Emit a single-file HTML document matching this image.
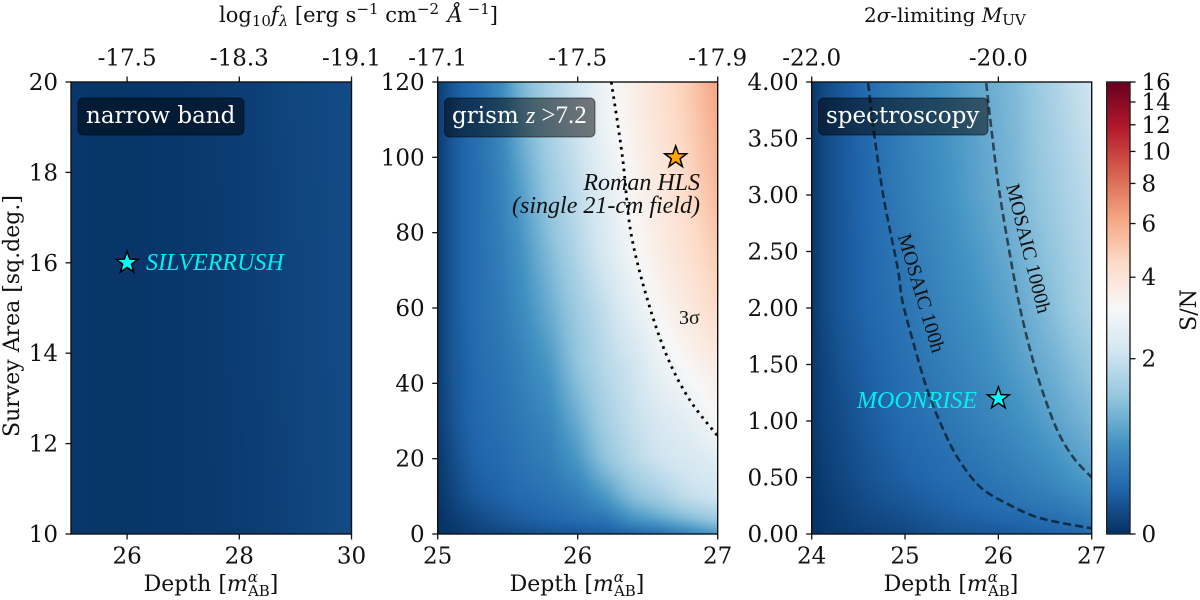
<!DOCTYPE html>
<html lang="en">
<head>
<meta charset="utf-8">
<title>Survey S/N panels</title>
<style>
html,body{margin:0;padding:0;background:#fff;width:1200px;height:600px;overflow:hidden}
svg{display:block}
text{font-family:"DejaVu Serif","Liberation Serif",serif;fill:#111}
.tick{font-size:23px}
.axl{font-size:22px}
.math{font-size:20px}
.badge{font-size:23px;fill:#fff}
.note{font-family:"Liberation Serif",serif;font-size:24px;font-style:italic}
.stix{font-family:"Liberation Serif",serif}
</style>
</head>
<body>
<svg id="fig" xmlns="http://www.w3.org/2000/svg" width="1200" height="600" viewBox="0 0 1200 600">
<defs id="defs"></defs>
<g id="layer-heat"></g>
<g id="layer-axes"></g>

<text class="math" x="219" y="22" font-size="21" style="font-size:21px">log<tspan font-size="15" style="font-size:15px" dy="4">10</tspan><tspan font-style="italic" dy="-4">f</tspan><tspan style="font-size:15px" font-style="italic" dy="4">λ</tspan><tspan dy="-4"> [erg s</tspan><tspan style="font-size:15px" dy="-8">−1</tspan><tspan dy="8"> cm</tspan><tspan style="font-size:15px" dy="-8">−2</tspan><tspan font-style="italic" dy="8" dx="2"> Å</tspan><tspan style="font-size:15px" dy="-8"> −1</tspan><tspan dy="8">]</tspan></text>
<text class="math" x="864" y="22">2<tspan font-style="italic">σ</tspan>-limiting <tspan font-style="italic">M</tspan><tspan style="font-size:15px" dy="3">UV</tspan></text>

<text class="axl" transform="translate(19 316) rotate(-90)" text-anchor="middle">Survey Area [sq.deg.]</text>
<text class="axl" x="211" y="591" text-anchor="middle">Depth [<tspan font-style="italic">m</tspan><tspan style="font-size:15px" font-style="italic" dy="-9">α</tspan><tspan style="font-size:15px" dx="-10" dy="14">AB</tspan><tspan dy="-5">]</tspan></text>
<text class="axl" x="577" y="591" text-anchor="middle">Depth [<tspan font-style="italic">m</tspan><tspan style="font-size:15px" font-style="italic" dy="-9">α</tspan><tspan style="font-size:15px" dx="-10" dy="14">AB</tspan><tspan dy="-5">]</tspan></text>
<text class="axl" x="951" y="591" text-anchor="middle">Depth [<tspan font-style="italic">m</tspan><tspan style="font-size:15px" font-style="italic" dy="-9">α</tspan><tspan style="font-size:15px" dx="-10" dy="14">AB</tspan><tspan dy="-5">]</tspan></text>
<text class="axl" transform="translate(1196 310) rotate(-90)" text-anchor="middle">S/N</text>

<rect x="78" y="98" width="166" height="37" rx="5" fill="#000" fill-opacity=".5" stroke="#000" stroke-opacity=".5"/>
<text class="badge" x="86" y="123">narrow band</text>
<rect x="444.5" y="98" width="150.5" height="39" rx="5" fill="#000" fill-opacity=".5" stroke="#000" stroke-opacity=".5"/>
<text class="badge" x="452" y="123">grism <tspan class="stix" font-style="italic" style="font-size:24px;font-family:'Liberation Serif',serif">z</tspan><tspan class="stix" dx="6" style="font-size:25px;font-family:'Liberation Serif',serif">&gt;7.2</tspan></text>
<rect x="818.5" y="98" width="169.5" height="37" rx="5" fill="#000" fill-opacity=".5" stroke="#000" stroke-opacity=".5"/>
<text class="badge" x="826" y="123">spectroscopy</text>

<text class="note" x="146" y="270" style="fill:#00f0f0">SILVERRUSH</text>
<text class="note" x="977" y="408" text-anchor="end" style="fill:#00f0f0">MOONRISE</text>
<text class="note" x="700" y="190" text-anchor="end">Roman HLS</text>
<text class="note" x="700" y="213" text-anchor="end">(single 21-cm field)</text>
<text class="stix" x="679" y="324" style="font-size:20px;font-family:'Liberation Serif',serif">3σ</text>
<text class="stix" text-anchor="middle" transform="translate(915 295) rotate(73.5)" style="font-size:20px;font-family:'Liberation Serif',serif">MOSAIC 100h</text>
<text class="stix" text-anchor="middle" transform="translate(1022 250) rotate(76)" style="font-size:20px;font-family:'Liberation Serif',serif">MOSAIC 1000h</text>
<g id="layer-marks"></g>
</svg>

<script>
/* ---------- data: narrow band ---------- */
const nbDepths = [25, 25.5, 26, 27, 28, 29, 30];
const nbAreas = [10, 20];
const nbSN = [
  [0.04, 0.03, 0.03, 0.04, 0.06, 0.10, 0.15],
  [0.04, 0.03, 0.03, 0.04, 0.07, 0.12, 0.15]
];
const nbDepthTicks = [26, 28, 30];
const nbAreaTicks = [10, 12, 14, 16, 18, 20];
const nbFluxTickLabels = ["-17.5", "-18.3", "-19.1"];

/* ---------- data: grism ---------- */
const grDepths = [25, 25.1, 25.2, 25.3, 25.45, 25.6, 25.8, 26, 26.2, 26.4, 26.6, 26.8, 27];
const grAreas = [0, 4, 10, 20, 30, 45, 60, 75, 90, 105, 120];
const grSN = [
  [0.01, 0.03, 0.06, 0.09, 0.12, 0.15, 0.19, 0.22, 0.25, 0.29, 0.37, 0.57, 0.76],
  [0.01, 0.06, 0.10, 0.15, 0.22, 0.27, 0.33, 0.39, 0.45, 0.76, 0.97, 1.21, 1.48],
  [0.03, 0.10, 0.19, 0.25, 0.31, 0.37, 0.43, 0.53, 0.81, 1.27, 1.55, 1.94, 2.11],
  [0.04, 0.15, 0.25, 0.33, 0.37, 0.45, 0.53, 0.81, 1.34, 1.77, 2.11, 2.29, 2.48],
  [0.06, 0.19, 0.29, 0.35, 0.41, 0.49, 0.62, 1.03, 1.55, 1.94, 2.29, 2.58, 3.12],
  [0.06, 0.22, 0.29, 0.39, 0.45, 0.57, 0.81, 1.34, 1.77, 2.11, 2.79, 3.24, 3.62],
  [0.06, 0.22, 0.33, 0.41, 0.49, 0.67, 1.03, 1.48, 1.94, 2.58, 3.24, 3.76, 4.47],
  [0.06, 0.22, 0.33, 0.41, 0.53, 0.76, 1.21, 1.70, 2.29, 3.01, 3.62, 4.18, 4.96],
  [0.06, 0.22, 0.33, 0.41, 0.57, 0.87, 1.41, 1.85, 2.48, 3.24, 3.76, 4.47, 5.49],
  [0.06, 0.22, 0.33, 0.41, 0.62, 1.03, 1.55, 2.02, 2.79, 3.37, 4.03, 4.79, 5.88],
  [0.06, 0.22, 0.33, 0.41, 0.67, 1.15, 1.62, 2.11, 2.90, 3.49, 4.18, 4.96, 6.28]
];
const grDepthTicks = [25, 26, 27];
const grAreaTicks = [0, 20, 40, 60, 80, 100, 120];
const grFluxTickLabels = ["-17.1", "-17.5", "-17.9"];
const contour3sDepth = [26.24, 26.32, 26.38, 26.5, 26.64, 26.8, 27];
const contour3sArea = [120, 100, 80, 62, 47, 35.6, 26];

/* ---------- data: spectroscopy ---------- */
const spDepths = [24, 24.1, 24.3, 24.6, 25, 25.4, 25.8, 26.2, 26.6, 27];
const spAreas = [0, 0.25, 0.5, 1, 1.5, 2, 3, 4];
const spSN = [
  [0.01, 0.03, 0.06, 0.09, 0.12, 0.19, 0.22, 0.25, 0.29, 0.37],
  [0.01, 0.04, 0.09, 0.15, 0.22, 0.29, 0.37, 0.43, 0.49, 0.62],
  [0.01, 0.06, 0.12, 0.20, 0.29, 0.37, 0.43, 0.53, 0.67, 0.87],
  [0.03, 0.09, 0.15, 0.25, 0.37, 0.45, 0.57, 0.71, 0.92, 1.15],
  [0.03, 0.10, 0.19, 0.29, 0.41, 0.53, 0.67, 0.87, 1.09, 1.41],
  [0.03, 0.12, 0.22, 0.33, 0.45, 0.60, 0.76, 0.97, 1.27, 1.70],
  [0.03, 0.12, 0.22, 0.35, 0.53, 0.71, 0.92, 1.15, 1.48, 1.85],
  [0.03, 0.12, 0.22, 0.37, 0.57, 0.76, 0.97, 1.21, 1.62, 2.11]
];
const spDepthTicks = [24, 25, 26, 27];
const spAreaTicks = [0, 0.5, 1, 1.5, 2, 2.5, 3, 3.5, 4];
const spTopTicks = [24, 26];
const spMuvTickLabels = ["-22.0", "-20.0"];
const mosaic100hDepth = [24.605, 24.66, 24.77, 24.92, 24.97, 25.09, 25.24, 25.38, 25.56, 25.8, 26.09, 26.45, 27];
const mosaic100hArea = [3.99, 3.6, 2.98, 2.36, 2.07, 1.69, 1.27, 0.98, 0.68, 0.42, 0.27, 0.14, 0.05];
const mosaic1000hDepth = [25.87, 25.93, 26.02, 26.2, 26.34, 26.47, 26.63, 26.8, 27];
const mosaic1000hArea = [3.99, 3.55, 2.98, 2.13, 1.63, 1.27, 0.92, 0.68, 0.5];

/* ---------- data: colour scale ---------- */
const colorbarTicks = [0, 2, 4, 6, 8, 10, 12, 14, 16];
const colorbarMax = 16;
const cmapStops = ["#053061","#2166ac","#4393c3","#92c5de","#d1e5f0","#f7f7f7","#fddbc7","#f4a582","#d6604d","#b2182b","#67001f"];

const NS = "http://www.w3.org/2000/svg";
function mk(tag, attrs, parent) {
  const el = document.createElementNS(NS, tag);
  for (const k in attrs) el.setAttribute(k, attrs[k]);
  parent.appendChild(el);
  return el;
}
function norm(v) { return Math.log(1 + Math.max(v, 0)) / Math.log(1 + colorbarMax); }
function hex2(c) { return [1, 3, 5].map(i => parseInt(c.substr(i, 2), 16)); }
function cmap(t) {
  const p = Math.min(Math.max(t, 0), 0.9999) * (cmapStops.length - 1);
  const i = Math.floor(p), f = p - i;
  const a = hex2(cmapStops[i]), b = hex2(cmapStops[i + 1]);
  return "rgb(" + a.map((x, j) => Math.round(x + (b[j] - x) * f)).join(",") + ")";
}
function fmt2(v) { return v.toFixed(2); }
function locate(arr, v) {
  let i = 0;
  while (i < arr.length - 2 && v > arr[i + 1]) i++;
  const f = Math.min(Math.max((v - arr[i]) / (arr[i + 1] - arr[i]), 0), 1);
  return [i, f];
}
function sampleGrid(depths, areas, sn, d, a) {
  const [c, fx] = locate(depths, d);
  const [r, fy] = locate(areas, a);
  const lo = sn[r][c] * (1 - fx) + sn[r][c + 1] * fx;
  const hi = sn[r + 1][c] * (1 - fx) + sn[r + 1][c + 1] * fx;
  return lo * (1 - fy) + hi * fy;
}

const heat = document.getElementById("layer-heat");
const axes = document.getElementById("layer-axes");
const marks = document.getElementById("layer-marks");
const defs = document.getElementById("defs");

function drawPanel(key, box, xDom, yDom, depths, areas, sn, xTicks, yTicks, yFmt, topTicks, topLabels) {
  const sx = d => box.x0 + (d - xDom[0]) / (xDom[1] - xDom[0]) * (box.x1 - box.x0);
  const sy = a => box.y1 - (a - yDom[0]) / (yDom[1] - yDom[0]) * (box.y1 - box.y0);
  const ix = x => xDom[0] + (x - box.x0) / (box.x1 - box.x0) * (xDom[1] - xDom[0]);
  const iy = y => yDom[0] + (box.y1 - y) / (box.y1 - box.y0) * (yDom[1] - yDom[0]);

  const clip = mk("clipPath", {id: "clip-" + key}, defs);
  mk("rect", {x: box.x0, y: box.y0, width: box.x1 - box.x0, height: box.y1 - box.y0}, clip);
  const filter = mk("filter", {id: "blur-" + key, filterUnits: "userSpaceOnUse", x: -100, y: -100, width: 1400, height: 800, "color-interpolation-filters": "sRGB"}, defs);
  mk("feGaussianBlur", {stdDeviation: 2.5}, filter);

  const clipG = mk("g", {"clip-path": "url(#clip-" + key + ")"}, heat);
  
  
  const cellG = mk("g", {filter: "url(#blur-" + key + ")"}, clipG);
  const step = 6;
  for (let py = box.y0 - 12; py < box.y1 + 12; py += step) {
    for (let px = box.x0 - 12; px < box.x1 + 12; px += step) {
      const value = sampleGrid(depths, areas, sn, ix(px + step / 2), iy(py + step / 2));
      const cell = mk("rect", {x: px, y: py, width: step + 0.5, height: step + 0.5, fill: cmap(norm(value))}, cellG);
      
      
    }
  }

  const frame = mk("rect", {x: box.x0, y: box.y0, width: box.x1 - box.x0, height: box.y1 - box.y0, fill: "none", stroke: "#111", "stroke-width": 1.4}, axes);
  
  

  xTicks.forEach(d => {
    const t = mk("line", {x1: sx(d), x2: sx(d), y1: box.y1, y2: box.y1 + 5.5, stroke: "#111", "stroke-width": 1.3}, axes);
    
    
    const l = mk("text", {x: sx(d), y: 563.5, "text-anchor": "middle", class: "tick"}, axes);
    l.textContent = String(d);
    
    
  });
  yTicks.forEach(a => {
    const t = mk("line", {x1: box.x0 - 5.5, x2: box.x0, y1: sy(a), y2: sy(a), stroke: "#111", "stroke-width": 1.3}, axes);
    
    
    const l = mk("text", {x: box.x0 - 13, y: sy(a) + 8, "text-anchor": "end", class: "tick"}, axes);
    l.textContent = yFmt(a);
    
    
  });
  topTicks.forEach((d, i) => {
    const t = mk("line", {x1: sx(d), x2: sx(d), y1: box.y0 - 5.5, y2: box.y0, stroke: "#111", "stroke-width": 1.3}, axes);
    
    
    const l = mk("text", {x: sx(d), y: 65.5, "text-anchor": "middle", class: "tick"}, axes);
    l.textContent = topLabels[i];
    
    
  });
  return {sx, sy};
}

function smoothPath(px) {
  let d = "M" + px[0][0] + " " + px[0][1];
  for (let i = 0; i < px.length - 1; i++) {
    const p0 = px[Math.max(i - 1, 0)], p1 = px[i], p2 = px[i + 1], p3 = px[Math.min(i + 2, px.length - 1)];
    d += " C" + (p1[0] + (p2[0] - p0[0]) / 6) + " " + (p1[1] + (p2[1] - p0[1]) / 6) + " " +
         (p2[0] - (p3[0] - p1[0]) / 6) + " " + (p2[1] - (p3[1] - p1[1]) / 6) + " " + p2[0] + " " + p2[1];
  }
  return d;
}
function star(cx, cy, R) {
  const pts = [];
  for (let i = 0; i < 10; i++) {
    const r = i % 2 ? R * 0.4 : R;
    const a = -Math.PI / 2 + i * Math.PI / 5;
    pts.push((cx + r * Math.cos(a)) + "," + (cy + r * Math.sin(a)));
  }
  return pts.join(" ");
}

const nb = drawPanel("narrow-band", {x0: 71, x1: 351.5, y0: 82, y1: 534}, [25, 30], [10, 20], nbDepths, nbAreas, nbSN, nbDepthTicks, nbAreaTicks, String, nbDepthTicks, nbFluxTickLabels);
const gr = drawPanel("grism", {x0: 437.7, x1: 717.7, y0: 82, y1: 534}, [25, 27], [0, 120], grDepths, grAreas, grSN, grDepthTicks, grAreaTicks, String, grDepthTicks, grFluxTickLabels);
const sp = drawPanel("spectroscopy", {x0: 811.7, x1: 1091.7, y0: 82, y1: 534}, [24, 27], [0, 4], spDepths, spAreas, spSN, spDepthTicks, spAreaTicks, fmt2, spTopTicks, spMuvTickLabels);

const c3 = mk("path", {d: smoothPath(contour3sDepth.map((d, i) => [gr.sx(d), gr.sy(contour3sArea[i])])), fill: "none", stroke: "#000", "stroke-width": 2.8, "stroke-dasharray": "2.6 4.7", "clip-path": "url(#clip-grism)"}, marks);


const m100 = mk("path", {d: smoothPath(mosaic100hDepth.map((d, i) => [sp.sx(d), sp.sy(mosaic100hArea[i])])), fill: "none", stroke: "#000", "stroke-opacity": 0.6, "stroke-width": 2.6, "stroke-dasharray": "8 4", "clip-path": "url(#clip-spectroscopy)"}, marks);


const m1000 = mk("path", {d: smoothPath(mosaic1000hDepth.map((d, i) => [sp.sx(d), sp.sy(mosaic1000hArea[i])])), fill: "none", stroke: "#000", "stroke-opacity": 0.6, "stroke-width": 2.6, "stroke-dasharray": "8 4", "clip-path": "url(#clip-spectroscopy)"}, marks);



const s1 = mk("polygon", {points: star(nb.sx(26), nb.sy(16), 11.5), fill: "#00ffff", stroke: "#000", "stroke-width": 1.5}, marks);


const s2 = mk("polygon", {points: star(gr.sx(26.7), gr.sy(100), 11.5), fill: "#ffa500", stroke: "#000", "stroke-width": 1.5}, marks);


const s3 = mk("polygon", {points: star(sp.sx(26), sp.sy(1.2), 11.5), fill: "#00ffff", stroke: "#000", "stroke-width": 1.5}, marks);



/* colour bar */
const cbBox = {x0: 1106.7, x1: 1130, y0: 82, y1: 534};
const grad = mk("linearGradient", {id: "cb-grad", x1: 0, y1: 1, x2: 0, y2: 0}, defs);
cmapStops.forEach((c, i) => {
  mk("stop", {offset: i / (cmapStops.length - 1), "stop-color": c}, grad);
});
const cbRect = mk("rect", {x: cbBox.x0, y: cbBox.y0, width: cbBox.x1 - cbBox.x0, height: cbBox.y1 - cbBox.y0, fill: "url(#cb-grad)", stroke: "#222", "stroke-width": 1.4}, axes);


colorbarTicks.forEach(v => {
  const y = cbBox.y1 - norm(v) * (cbBox.y1 - cbBox.y0);
  const t = mk("line", {x1: cbBox.x1, x2: cbBox.x1 + 5.5, y1: y, y2: y, stroke: "#111", "stroke-width": 1.3}, axes);
  
  
  const l = mk("text", {x: 1141.5, y: y + 8, class: "tick"}, axes);
  l.textContent = String(v);
  
  
});
</script>
</body>
</html>
